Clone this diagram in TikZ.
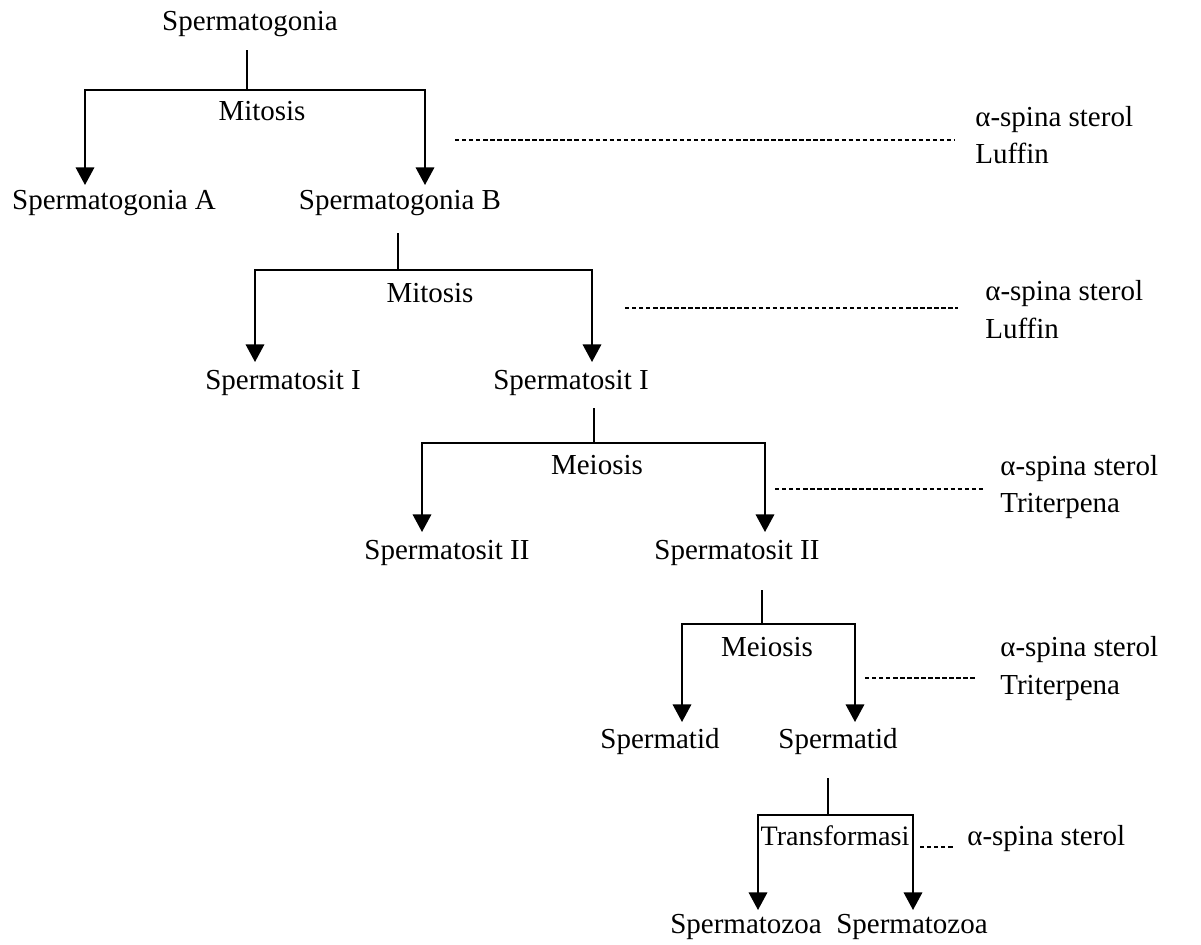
\documentclass[tikz,border=0pt]{standalone}
\usepackage{fontspec}
\setmainfont{Liberation Serif}
\usetikzlibrary{arrows.meta}
\begin{document}
\begin{tikzpicture}[x=0.02cm,y=-0.02cm,
  lbl/.style={anchor=base,inner sep=0pt,font=\fontsize{16.5}{19}\selectfont},
  side/.style={anchor=base west,inner sep=0pt,font=\fontsize{16.5}{19}\selectfont},
  ln/.style={line width=1.1pt},
  arr/.style={line width=1.1pt,-{Triangle[width=10.5pt,length=10pt]}},
  dsh/.style={line width=0.9pt,dash pattern=on 2.5pt off 1.5pt}]
\useasboundingbox (0,0) rectangle (1201,944);
\fill[white] (0,0) rectangle (1201,944);

% ---- Level 1
\node[lbl] (sg) at (250,30) {Spermatogonia};
\coordinate (s1) at (247,50);
\coordinate (j1) at (247,90);
\coordinate (t1a) at (85,185);
\coordinate (t1b) at (425,185);
\draw[ln] (s1) -- (j1);
\draw[arr] (j1) -| (t1a);
\draw[arr] (j1) -| (t1b);
\node[lbl] (m1) at (262,120) {Mitosis};
\node[lbl] (sgA) at (114,209) {Spermatogonia A};
\node[lbl] (sgB) at (400,209) {Spermatogonia B};
\node[side] (c1a) at (975,126) {α-spina sterol};
\node[side] (c1b) at (975,163) {Luffin};
\coordinate (d1a) at (455,140);
\coordinate (d1b) at (955,140);
\draw[dsh] (d1a) -- (d1b);

% ---- Level 2
\coordinate (s2) at (398,233);
\coordinate (j2) at (398,270);
\coordinate (t2a) at (255,362);
\coordinate (t2b) at (592,362);
\draw[ln] (s2) -- (j2);
\draw[arr] (j2) -| (t2a);
\draw[arr] (j2) -| (t2b);
\node[lbl] (m2) at (430,302) {Mitosis};
\node[lbl] (sc1L) at (283,389) {Spermatosit I};
\node[lbl] (sc1R) at (571,389) {Spermatosit I};
\node[side] (c2a) at (985,300) {α-spina sterol};
\node[side] (c2b) at (985,338) {Luffin};
\coordinate (d2a) at (625,308);
\coordinate (d2b) at (958,308);
\draw[dsh] (d2a) -- (d2b);

% ---- Level 3
\coordinate (s3) at (594,408);
\coordinate (j3) at (594,443);
\coordinate (t3a) at (422,532);
\coordinate (t3b) at (765,532);
\draw[ln] (s3) -- (j3);
\draw[arr] (j3) -| (t3a);
\draw[arr] (j3) -| (t3b);
\node[lbl] (m3) at (597,474) {Meiosis};
\node[lbl] (sc2L) at (447,559) {Spermatosit II};
\node[lbl] (sc2R) at (737,559) {Spermatosit II};
\node[side] (c3a) at (1000,475) {α-spina sterol};
\node[side] (c3b) at (1000,512) {Triterpena};
\coordinate (d3a) at (775,489);
\coordinate (d3b) at (983,489);
\draw[dsh] (d3a) -- (d3b);

% ---- Level 4
\coordinate (s4) at (762,590);
\coordinate (j4) at (762,624);
\coordinate (t4a) at (682,722);
\coordinate (t4b) at (855,722);
\draw[ln] (s4) -- (j4);
\draw[arr] (j4) -| (t4a);
\draw[arr] (j4) -| (t4b);
\node[lbl] (m4) at (767,656) {Meiosis};
\node[lbl] (stL) at (660,748) {Spermatid};
\node[lbl] (stR) at (838,748) {Spermatid};
\node[side] (c4a) at (1000,656) {α-spina sterol};
\node[side] (c4b) at (1000,694) {Triterpena};
\coordinate (d4a) at (865,678);
\coordinate (d4b) at (975,678);
\draw[dsh] (d4a) -- (d4b);

% ---- Level 5
\coordinate (s5) at (828,778);
\coordinate (j5) at (828,815);
\coordinate (t5a) at (758,910);
\coordinate (t5b) at (913,910);
\draw[ln] (s5) -- (j5);
\draw[arr] (j5) -| (t5a);
\draw[arr] (j5) -| (t5b);
\node[lbl,font=\fontsize{16}{19}\selectfont] (m5) at (835,845) {Transformasi};
\node[lbl] (szL) at (746,933) {Spermatozoa};
\node[lbl] (szR) at (912,933) {Spermatozoa};
\node[side] (c5a) at (967,845) {α-spina sterol};
\coordinate (d5a) at (920,847);
\coordinate (d5b) at (953,847);
\draw[dsh] (d5a) -- (d5b);
\end{tikzpicture}
\end{document}
